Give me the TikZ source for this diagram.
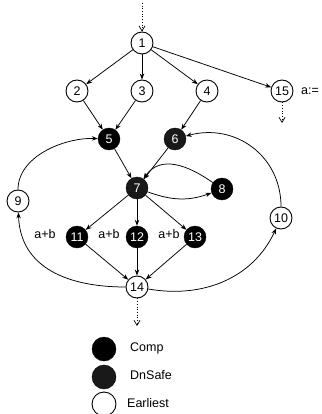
\documentclass[tikz,border=0pt]{standalone}
\usepackage{fontspec}
\setmainfont{Liberation Sans}
\usetikzlibrary{arrows.meta}
\begin{document}
\begin{tikzpicture}[x=1pt,y=-1pt,
  every node/.style={font=\fontsize{12.5}{14}\selectfont},
  earl/.style={circle,draw,line width=0.9pt,minimum size=22pt,inner sep=0pt},
  comp/.style={circle,fill=black,draw=black,text=white,minimum size=22pt,inner sep=0pt},
  dns/.style={comp,fill=black!90},
  edge/.style={line width=0.75pt,-{Stealth[length=6pt,width=4.5pt]}},
  dotarr/.style={dotted,line width=0.7pt,-{Straight Barb[length=5pt,width=6pt]}},
  lbl/.style={inner sep=0pt}]
\useasboundingbox (0,0) rectangle (321,414);
% nodes
\coordinate (top) at (142,3);
\node[earl] (n1) at (142,43) {1};
\node[earl] (n2) at (77,91) {2};
\node[earl] (n3) at (142,91) {3};
\node[earl] (n4) at (207,91) {4};
\node[earl] (n15) at (282,91) {15};
\node[lbl,anchor=west] (a15) at (301,91) {a:=};
\coordinate (b15) at (282,123);
\node[comp] (n5) at (109,139) {5};
\node[dns] (n6) at (175,139) {6};
\node[dns] (n7) at (137,188) {7};
\node[comp] (n8) at (222,189) {8};
\node[earl] (n9) at (18,201) {9};
\node[earl] (n10) at (281,218) {10};
\node[comp] (n11) at (77,237) {11};
\node[comp] (n12) at (137,237) {12};
\node[comp] (n13) at (195,237) {13};
\node[lbl] (l11) at (45,234) {a+b};
\node[lbl] (l12) at (109,234) {a+b};
\node[lbl] (l13) at (169,234) {a+b};
\node[earl] (n14) at (137,287) {14};
\coordinate (b14) at (137,326);
% legend
\node[comp,minimum size=24pt] (lc) at (104,349) {};
\node[dns,minimum size=24pt] (ld) at (104,377) {};
\node[earl,minimum size=24pt] (le) at (104,404) {};
\node[lbl,anchor=west] (tc) at (130,348) {Comp};
\node[lbl,anchor=west] (td) at (130,375) {DnSafe};
\node[lbl,anchor=west] (te) at (127,403) {Earliest};
% edges
\draw[dotarr] (top) -- (n1);
\draw[dotarr] (n15) -- (b15);
\draw[dotarr] (n14) -- (b14);
\draw[edge] (n1) -- (n2);
\draw[edge] (n1) -- (n3);
\draw[edge] (n1) -- (n4);
\draw[edge] (n1) -- (n15);
\draw[edge] (n2) -- (n5);
\draw[edge] (n3) -- (n5);
\draw[edge] (n4) -- (n6);
\draw[edge] (n5) -- (n7);
\draw[edge] (n6) -- (n7);
\draw[edge] (n7) -- (n11);
\draw[edge] (n7) -- (n12);
\draw[edge] (n7) -- (n13);
\draw[edge] (n11) -- (n14);
\draw[edge] (n12) -- (n14);
\draw[edge] (n13) -- (n14);
\draw[edge] (n7) to[out=-20,in=200] (n8);
\draw[edge] (n8) to[out=145,in=55,looseness=1.1] (n7);
\draw[edge] (n9) to[out=90,in=178,looseness=0.9] (n5);
\draw[edge] (n14) to[out=180,in=-88,looseness=1.1] (n9);
\draw[edge] (n14) to[out=-10,in=-115,looseness=1.0] (n10);
\draw[edge] (n10) to[out=90,in=15,looseness=1.1] (n6);
\end{tikzpicture}
\end{document}
